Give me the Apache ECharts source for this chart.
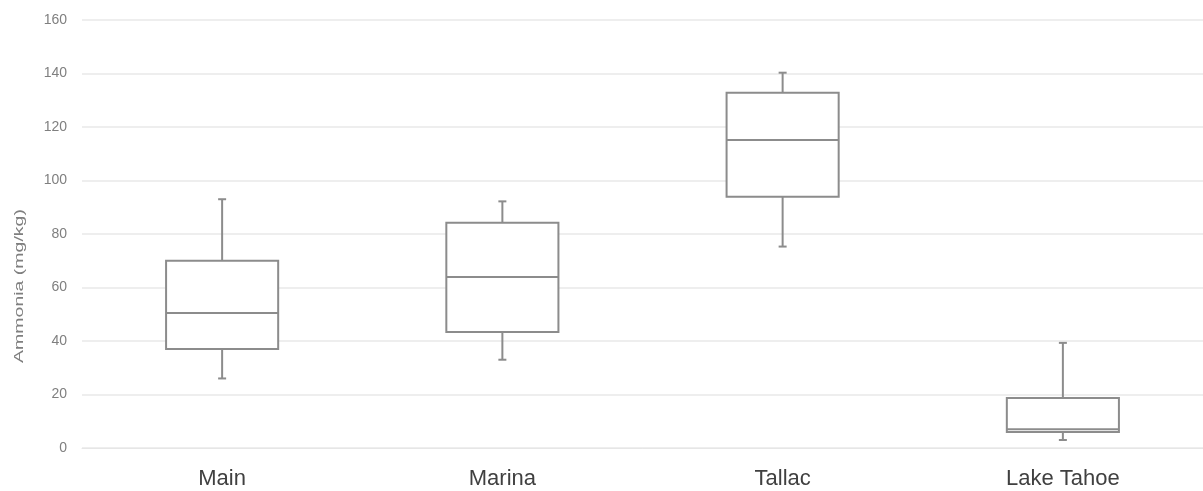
<!DOCTYPE html>
<html>
<head>
<meta charset="utf-8">
<script src="https://cdn.jsdelivr.net/npm/echarts@6/dist/echarts.min.js"></script>
<style>
  html, body { margin: 0; padding: 0; background: #fff; }
  #chart { width: 1203px; height: 491px; }
</style>
</head>
<body>
<div id="chart"></div>
<script>
// Sites along the shore
const categories = ['Main', 'Marina', 'Tallac', 'Lake Tahoe'];
// Five-number summaries per site (mg/kg)
const minValues    = [26, 33, 75.3, 3];
const q1Values     = [37, 43.4, 93.9, 6];
const medianValues = [50.5, 63.9, 115.1, 7];
const q3Values     = [70, 84.2, 132.8, 18.7];
const maxValues    = [93, 92.2, 140.3, 39.3];
const yTicks = [0, 20, 40, 60, 80, 100, 120, 140, 160];

const boxData = categories.map((c, i) => [i, minValues[i], q1Values[i], medianValues[i], q3Values[i], maxValues[i]]);

const stroke = '#8c8c8c';

// Box, median, whiskers and small caps, all placed through the axes
function renderBox(params, api) {
  const i = api.value(0);
  const pMin = api.coord([i, api.value(1)]);
  const pQ1 = api.coord([i, api.value(2)]);
  const pMed = api.coord([i, api.value(3)]);
  const pQ3 = api.coord([i, api.value(4)]);
  const pMax = api.coord([i, api.value(5)]);
  const bandW = api.size([1, 0])[0];
  const half = bandW * 0.2;
  const cap = 4;
  const x = pMed[0];
  const style = { stroke: stroke, lineWidth: 2, fill: null };
  return {
    type: 'group',
    children: [
      { type: 'line', shape: { x1: x, y1: pMax[1], x2: x, y2: pQ3[1] }, style: style },
      { type: 'line', shape: { x1: x - cap, y1: pMax[1], x2: x + cap, y2: pMax[1] }, style: style },
      { type: 'line', shape: { x1: x, y1: pQ1[1], x2: x, y2: pMin[1] }, style: style },
      { type: 'line', shape: { x1: x - cap, y1: pMin[1], x2: x + cap, y2: pMin[1] }, style: style },
      { type: 'rect', shape: { x: x - half, y: pQ3[1], width: half * 2, height: pQ1[1] - pQ3[1] },
        style: { stroke: stroke, lineWidth: 2, fill: '#fff' } },
      { type: 'line', shape: { x1: x - half, y1: pMed[1], x2: x + half, y2: pMed[1] }, style: style }
    ]
  };
}

const chart = echarts.init(document.getElementById('chart'), null, { renderer: 'canvas' });
chart.setOption({
  animation: false,
  backgroundColor: '#fff',
  grid: { left: 82, right: 0, top: 20, bottom: 43, containLabel: false },
  xAxis: {
    type: 'category',
    data: categories,
    axisLine: { show: true, lineStyle: { color: '#e6e6e6', width: 1 } },
    axisTick: { show: false },
    axisLabel: {
      color: '#404040',
      fontSize: 22,
      fontFamily: 'Liberation Sans, Arial, sans-serif',
      margin: 20
    }
  },
  yAxis: {
    type: 'value',
    min: yTicks[0],
    max: yTicks[yTicks.length - 1],
    interval: 20,
    axisLine: { show: false },
    axisTick: { show: false },
    splitLine: { lineStyle: { color: '#e9e9e9', width: 1.5 } },
    axisLabel: {
      color: '#7f7f7f',
      fontSize: 14,
      fontFamily: 'Liberation Sans, Arial, sans-serif',
      margin: 15
    }
  },
  graphic: [{
    type: 'text',
    x: 19,
    y: 286,
    rotation: Math.PI / 2,
    scaleX: 1.5,
    style: {
      text: 'Ammonia (mg/kg)',
      fill: '#7f7f7f',
      font: '13px Liberation Sans, Arial, sans-serif',
      align: 'center',
      verticalAlign: 'middle'
    }
  }],
  series: [{
    type: 'custom',
    renderItem: renderBox,
    encode: { x: 0, y: [1, 2, 3, 4, 5] },
    data: boxData
  }]
});
</script>
</body>
</html>
